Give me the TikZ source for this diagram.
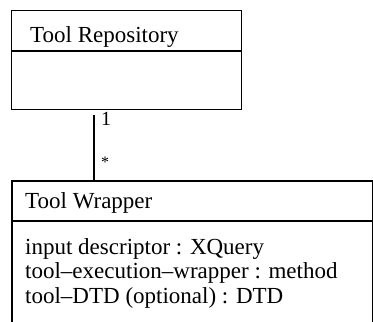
\documentclass[tikz,border=0pt]{standalone}
\usepackage{fontspec}
\setmainfont{Liberation Serif}
\newfontfamily\umlserif{Liberation Serif}
\begin{document}
\begin{tikzpicture}[x=1pt,y=1pt,
  boxline/.style={draw=black,line width=1.1pt},
  lbl/.style={font=\umlserif\fontsize{23}{25}\selectfont,inner sep=0pt,anchor=base west},
  mult/.style={font=\umlserif\fontsize{20}{22}\selectfont,inner sep=0pt,anchor=base west}]
\useasboundingbox (0,0) rectangle (373,322);
% Tool Repository box
\node[boxline,anchor=north west,minimum width=230pt,minimum height=99pt,inner sep=0pt] (repo) at (11,312) {};
\draw[boxline] (11,271) -- (241,271);
\node[lbl] (repotitle) at (30,279) {Tool Repository};
% Tool Wrapper box (open at bottom)
\coordinate (wbl) at (12,-5);
\coordinate (wtl) at (12,141);
\coordinate (wtr) at (372.4,141);
\coordinate (wbr) at (372.4,-5);
\draw[boxline] (wbl) -- (wtl) -- (wtr) -- (wbr);
\draw[boxline] (12,101) -- (372.4,101);
\node[lbl] (wraptitle) at (25,113) {Tool Wrapper};
\node[lbl] (a1) at (25,67) {input descriptor : XQuery};
\node[lbl] (a2) at (25,43) {tool\textendash execution\textendash wrapper : method};
\node[lbl] (a3) at (25,19) {tool\textendash DTD (optional) : DTD};
% connector
\coordinate (cs) at (94,207);
\coordinate (ce) at (94,141);
\draw[line width=1.1pt] (cs) -- (ce);
\node[mult] (m1) at (101,196) {1};
\node[font=\umlserif\fontsize{16}{18}\selectfont,inner sep=0pt,anchor=center] (m2) at (105,160) {*};
\end{tikzpicture}
\end{document}
